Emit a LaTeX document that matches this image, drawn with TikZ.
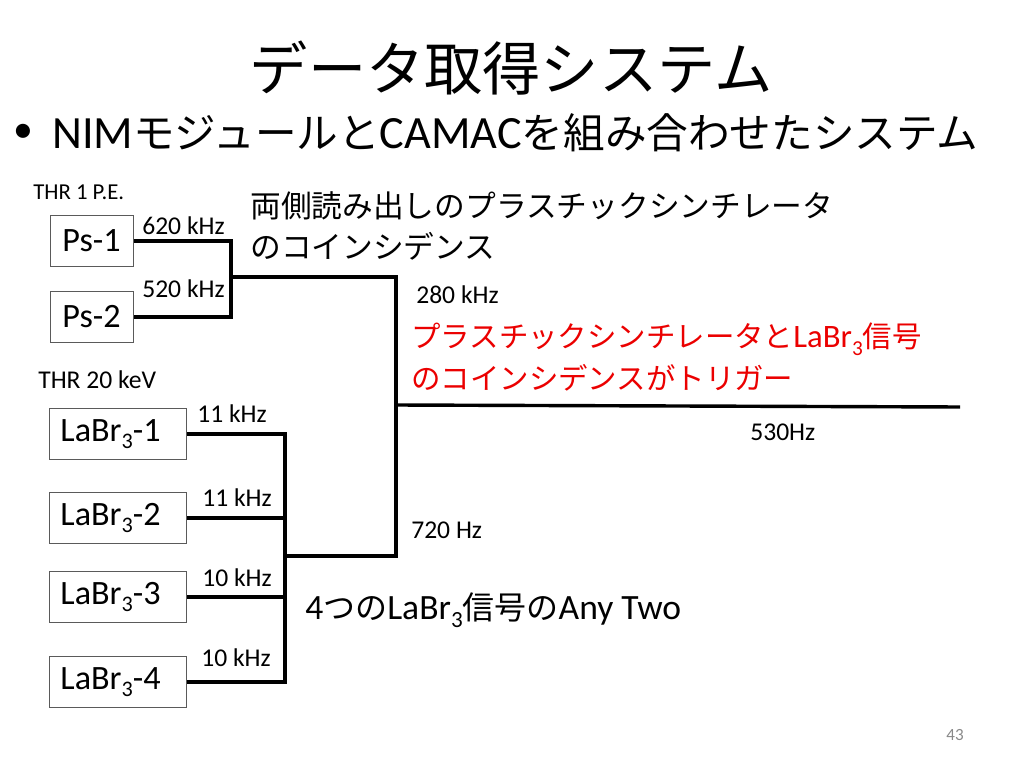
\documentclass[tikz,border=0pt]{standalone}
\usepackage{fontspec}
\setmainfont{Carlito}
\newfontfamily\jpf[Scale=0.9]{Noto Sans CJK JP}
\usepackage{graphicx}
\definecolor{trig}{RGB}{235,0,0}
\definecolor{pagegray}{RGB}{137,137,137}
\definecolor{boxgray}{RGB}{90,90,90}
\newcommand\subthree{\raisebox{-0.22em}{\scalebox{0.65}{3}}}
\newcommand\labr{LaBr\subthree}
\begin{document}
\begin{tikzpicture}[x=0.703125pt,y=-0.703125pt,
  psbox/.style={draw=boxgray,line width=0.75pt,fill=white,anchor=west,
    inner xsep=8.4pt,inner ysep=0pt,text width=41.6pt,align=left,
    minimum height=36.4pt,font=\fontsize{24}{28}\selectfont},
  lbbox/.style={psbox,inner xsep=7.7pt,text width=80.9pt},
  wire/.style={draw=black,line width=2.4pt},
  rate/.style={anchor=base west,inner sep=0pt,font=\fontsize{18}{21}\selectfont},
  thr/.style={anchor=base west,inner sep=0pt},
  jtext/.style={anchor=west,inner sep=0pt,align=left,font=\fontsize{24}{28.4}\selectfont}
]
\useasboundingbox (0,0) rectangle (1024,768);

% title and bullet
\node[inner sep=0pt,font=\fontsize{45.5}{50}\selectfont] (title) at (511,68) {\jpf データ取得システム};
\node[anchor=west,inner sep=0pt,font=\fontsize{28}{32}\selectfont] (bullet) at (13,133) {•};
\node[anchor=west,inner sep=0pt,font=\fontsize{32.5}{36}\selectfont] (subtitle) at (52,133)
  {NIM{\jpf モジュールと}CAMAC{\jpf を組み合わせたシステム}};

% detector boxes
\node[psbox] (ps1) at (50,241) {Ps-1};
\node[psbox] (ps2) at (50,317) {Ps-2};
\node[lbbox] (lb1) at (49,434) {\labr-1};
\node[lbbox] (lb2) at (49,518) {\labr-2};
\node[lbbox] (lb3) at (49,597) {\labr-3};
\node[lbbox] (lb4) at (49,682) {\labr-4};

% junctions
\coordinate (jps) at (231,277);
\coordinate (jtop) at (396,277);
\coordinate (jout) at (396,405);
\coordinate (jbot) at (396,556);
\coordinate (jlb) at (285,556);
\coordinate (outend) at (960,407);

% wires
\draw[wire] (ps1.east) -| (jps) |- (ps2.east);
\draw[wire] (jps) -- (jtop) -- (jbot) -- (jlb);
\draw[wire] (jout) -- (outend);
\draw[wire] (lb1.east) -| (jlb) |- (lb4.east);
\draw[wire] (lb2.east) -- (lb2.east -| jlb);
\draw[wire] (lb3.east) -- (lb3.east -| jlb);

% thresholds
\node[thr,font=\fontsize{16}{19}\selectfont] (thrps) at (33,200) {THR 1 P.E.};
\node[thr,font=\fontsize{18}{21}\selectfont] (thrlb) at (38,388) {THR 20 keV};

% rates
\node[rate] (r1) at (142,235) {620 kHz};
\node[rate] (r2) at (142,297) {520 kHz};
\node[rate] (r3) at (197,422) {11 kHz};
\node[rate] (r4) at (202,506) {11 kHz};
\node[rate] (r5) at (202,586) {10 kHz};
\node[rate] (r6) at (201,666) {10 kHz};
\node[rate] (r7) at (416,304) {280 kHz};
\node[rate] (r8) at (411,538) {720 Hz};
\node[rate] (r9) at (750,440) {530Hz};

% explanations
\node[jtext] (pscoin) at (250,226)
  {\jpf 両側読み出しのプラスチックシンチレータ\\\jpf のコインシデンス};
\node[jtext,text=trig,font=\fontsize{23}{29}\selectfont] (trigger) at (411,357)
  {{\jpf プラスチックシンチレータと}\labr{\jpf 信号}\\\jpf のコインシデンスがトリガー};
\node[jtext,font=\fontsize{25}{29}\selectfont] (anytwo) at (305,610)
  {4{\jpf つの}\labr{\jpf 信号の}Any Two};

% page number
\node[inner sep=0pt,text=pagegray,font=\fontsize{12}{14}\selectfont] (page) at (955,735) {43};
\end{tikzpicture}
\end{document}
